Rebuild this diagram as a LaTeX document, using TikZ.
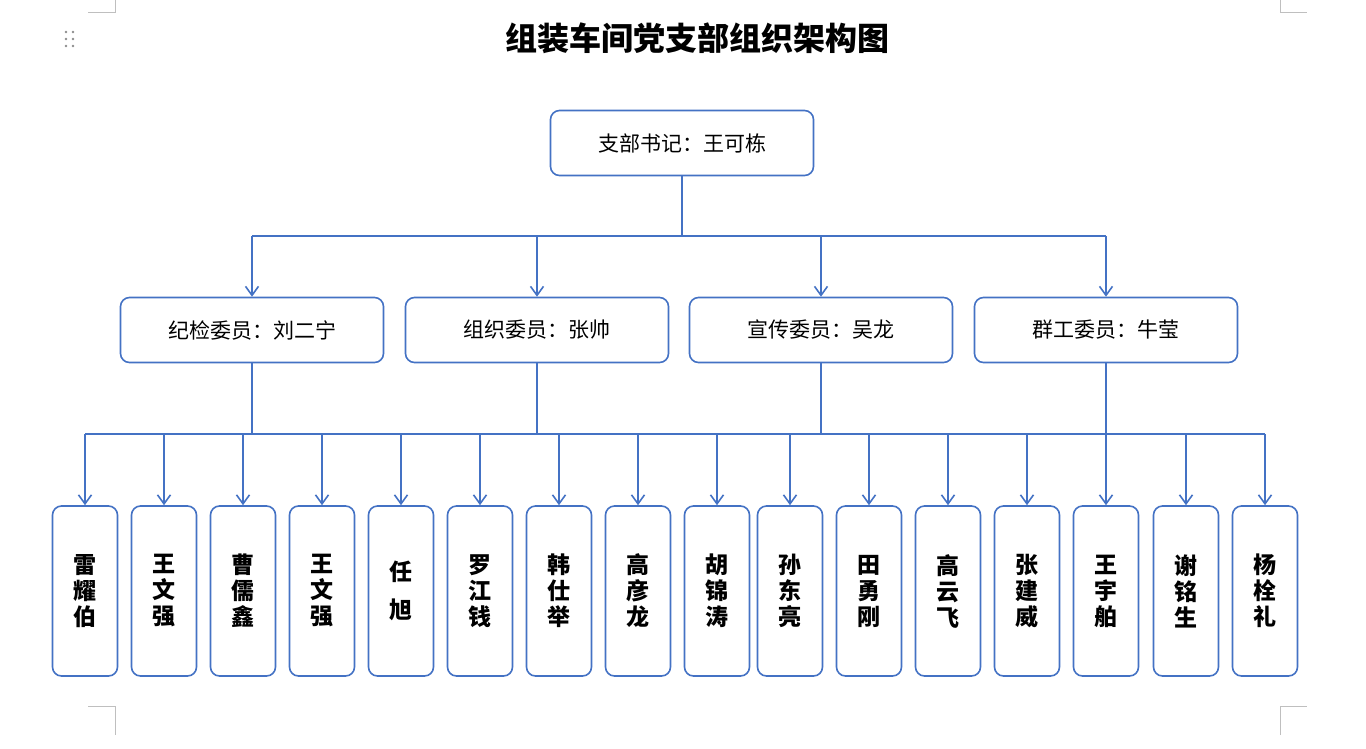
\documentclass[tikz,border=0pt]{standalone}
\usepackage{fontspec}
\setmainfont{Noto Sans CJK SC}
\usetikzlibrary{arrows.meta,positioning}
\definecolor{orgblue}{HTML}{4472C4}
\tikzset{
  box/.style={draw=orgblue, line width=1.6pt, rounded corners=9pt, fill=white, inner sep=0},
  head/.style={box, minimum width=263pt, minimum height=65pt, font=\fontsize{21}{24}\selectfont},
  member/.style={box, minimum width=65pt, minimum height=170pt, align=center, font=\fontsize{23}{26}\selectfont\bfseries},
  link/.style={draw=orgblue, line width=1.6pt},
  arr/.style={link, -{Straight Barb[length=9pt,width=13pt]}},
  cropmark/.style={draw=black!25, line width=0.8pt}
}
\begin{document}
\begin{tikzpicture}[x=1pt,y=-1pt]
  \useasboundingbox (0,0) rectangle (1366,748);
  % page marks
  \draw[cropmark] (88,12) -- (115,12) -- (115,0);
  \draw[cropmark] (1280,0) -- (1280,12) -- (1307,12);
  \draw[cropmark] (88,706) -- (115,706) -- (115,735);
  \draw[cropmark] (1280,735) -- (1280,706) -- (1307,706);
  \foreach \dx in {66,73} \foreach \dy in {32,39,46}
    \fill[black!45] (\dx,\dy) circle (1.4);
  % title
  \node[font=\fontsize{32}{36}\selectfont\bfseries] (title) at (697,38) {组装车间党支部组织架构图};
  % secretary
  \node[head] (sec) at (682,143) {支部书记：王可栋};
  % committee
  \node[head] (c1) at (252,330) {纪检委员：刘二宁};
  \node[head] (c2) at (537,330) {组织委员：张帅};
  \node[head] (c3) at (821,330) {宣传委员：吴龙};
  \node[head] (c4) at (1106,330) {群工委员：牛莹};
  \coordinate (bus) at (682,236);
  \draw[link] (sec.south) -- (bus);
  \draw[link] (c1.north |- bus) -- (c4.north |- bus);
  \foreach \c in {c1,c2,c3,c4}
    \draw[arr] (\c.north |- bus) -- (\c.north);
  % members
  \foreach \x/\nm [count=\i] in {85/雷\\耀\\伯, 164/王\\文\\强, 243/曹\\儒\\鑫, 322/王\\文\\强,
      401/任\\[12pt]旭, 480/罗\\江\\钱, 559/韩\\仕\\举, 638/高\\彦\\龙,
      717/胡\\锦\\涛, 790/孙\\东\\亮, 869/田\\勇\\刚, 948/高\\云\\飞,
      1027/张\\建\\威, 1106/王\\宇\\舶, 1186/谢\\铭\\生, 1265/杨\\栓\\礼}
    \node[member] (m\i) at (\x,591) {\nm};
  \coordinate (low) at (682,434);
  \draw[link] (m1.north |- low) -- (m16.north |- low);
  \foreach \c in {c1,c2,c3,c4}
    \draw[link] (\c.south) -- (\c.south |- low);
  \foreach \i in {1,...,16}
    \draw[arr] (m\i.north |- low) -- (m\i.north);
\end{tikzpicture}
\end{document}
